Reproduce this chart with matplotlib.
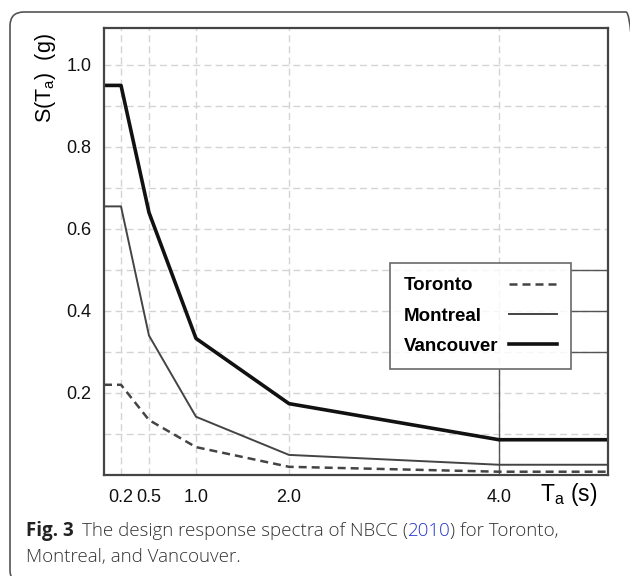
import numpy as np
import matplotlib.pyplot as plt
from matplotlib.patches import FancyBboxPatch

# data
T = [0.0, 0.2, 0.5, 1.0, 2.0, 4.0, 5.0]
vancouver = [0.95, 0.95, 0.64, 0.333, 0.174, 0.086, 0.086]
montreal = [0.655, 0.655, 0.34, 0.142, 0.049, 0.025, 0.025]
toronto = [0.22, 0.22, 0.134, 0.068, 0.02, 0.008, 0.008]
xticks = [0.2, 0.5, 1.0, 2.0, 4.0]
xticklabels = ["0.2", "0.5", "1.0", "2.0", "4.0"]
yticks = [0.2, 0.4, 0.6, 0.8, 1.0]

# the original x axis is not quite linear
xp = [0.0, 0.2, 0.5, 1.0, 2.0, 4.0, 5.0]
fp = [0.0, 17, 45, 92, 185, 395, 504]

def fwd(x):
    return np.interp(x, xp, fp)

def inv(y):
    return np.interp(y, fp, xp)

plt.rcParams['font.family'] = ['Liberation Sans', 'DejaVu Sans']
W, H = 630, 576
fig = plt.figure(figsize=(W/100, H/100), dpi=100)
ax = fig.add_axes([104/W, (H-475)/H, 504/W, 447/H])
ax.set_xscale('function', functions=(fwd, inv))
ax.set_xlim(0, 5.0)
ax.set_ylim(0, 1.09)

gc = '#d4d4d4'
for v in np.arange(0.1, 1.05, 0.1):
    ax.axhline(v, color=gc, lw=1, ls=(0, (5, 3)), zorder=0)
for v in [0.2, 0.5, 1.0, 2.0, 4.0]:
    ax.axvline(v, color=gc, lw=1, ls=(0, (5, 3)), zorder=0)

# solid bits around the legend
ax.axvline(4.0, ymin=0, ymax=0.235, color='#555555', lw=1, zorder=1)
for v in [0.3, 0.4, 0.5]:
    ax.axhline(v, xmin=0.929, xmax=1, color='#555555', lw=1, zorder=1)

ax.plot(T, toronto, color='#444444', lw=1.8, ls=(0, (3.2, 2)), label='Toronto')
ax.plot(T, montreal, color='#444444', lw=1.4, label='Montreal')
ax.plot(T, vancouver, color='#111111', lw=2.6, label='Vancouver')

ax.set_xticks(xticks)
ax.set_xticklabels(xticklabels)
ax.set_yticks(yticks)
ax.set_yticklabels(["%.1f" % v for v in yticks])
ax.tick_params(length=0, labelsize=13, colors='#111111', pad=9)
ax.tick_params(axis='x', pad=10)
for s in ax.spines.values():
    s.set_color('#444444')
    s.set_linewidth(1.6)

fs = 13.5
leg = ax.legend(loc='upper left', bbox_to_anchor=(0.567, 0.474), markerfirst=False,
                frameon=True, fancybox=False, handlelength=2.6, handletextpad=0.55,
                labelspacing=0.7, borderpad=0.75, borderaxespad=0,
                prop={'weight': 'bold', 'size': fs})
leg.get_frame().set_edgecolor('#444444')
leg.get_frame().set_linewidth(1.2)

# left-align the labels, keep the line samples lined up on the right
fig.canvas.draw()
r = fig.canvas.get_renderer()
widths = [t.get_window_extent(r).width for t in leg.get_texts()]
items = []
for col in leg._legend_handle_box.get_children():
    col.align = 'left'
    items += col.get_children()
for item, w in zip(items, widths):
    item.sep = 0.55*fs + (max(widths) - w)*72/100

fig.text(45/W, 1-78/H, 'S(T$_{\\mathregular{a}}$)  (g)', rotation=90,
         ha='center', va='center', fontsize=15.5)
fig.text(540/W, 1-495/H, 'T$_{\\mathregular{a}}$ (s)', ha='left', va='center', fontsize=16.5)

border = FancyBboxPatch((10, -8), 630, 576-12+8, boxstyle='round,pad=0,rounding_size=14',
                        transform=None, fill=False, edgecolor='#555555', lw=1.2)
fig.add_artist(border)

# caption
cf = ['Open Sans', 'DejaVu Sans']
cs = 13.5
x0, y1 = 26/W, 1-531/H
t = fig.text(x0, y1, 'Fig. 3', family=cf, weight='bold', fontsize=cs, va='center', color='#222222')
x = t.get_window_extent(r).x1 + 8
parts = [('The design response spectra of NBCC (', '#333333'), ('2010', '#2233cc'),
         (') for Toronto,', '#333333')]
for s, c in parts:
    t = fig.text(x/W, y1, s, family=cf, weight='light', fontsize=cs, va='center', color=c)
    x = t.get_window_extent(r).x1
fig.text(x0, 1-557/H, 'Montreal, and Vancouver.', family=cf, weight='light', fontsize=cs,
         va='center', color='#333333')

fig.savefig('out.png', dpi=100)
